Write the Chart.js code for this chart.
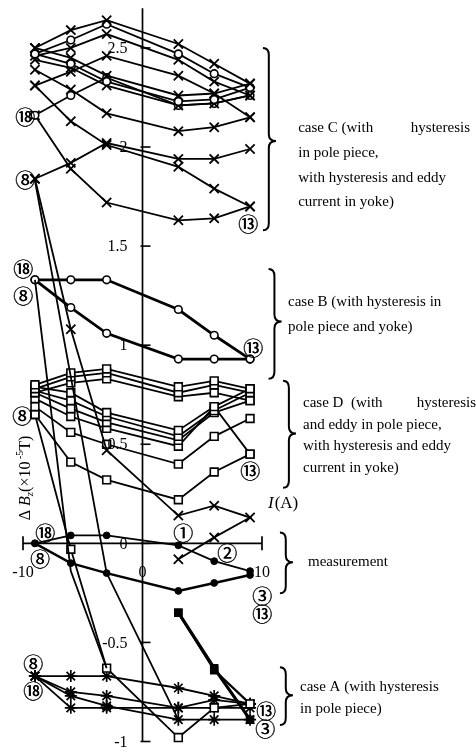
<!DOCTYPE html>
<html>
<head>
<meta charset="utf-8">
<script src="https://cdn.jsdelivr.net/npm/chart.js@4/dist/chart.umd.min.js"></script>
<style>
  html, body { margin: 0; padding: 0; background: #fff; }
  canvas { display: block; }
</style>
</head>
<body>
<canvas id="chart" width="476" height="752"></canvas>
<script>
// Coil current steps (A) used for every branch
const currents = [-9, -6, -3, 3, 6, 9];
const xTicks = [-10, 0, 10];
const yTicks = [-1, -0.5, 0, 0.5, 1, 1.5, 2, 2.5];

// case C: hysteresis in pole piece, hysteresis + eddy current in yoke
const caseC1  = [2.50, 2.59, 2.64, 2.52, 2.42, 2.32];
const caseC2  = [2.47, 2.54, 2.62, 2.47, 2.37, 2.30];
const caseC3  = [2.46, 2.50, 2.57, 2.44, 2.33, 2.26];
const caseC4  = [2.50, 2.45, 2.36, 2.26, 2.27, 2.32];
const caseC5  = [2.47, 2.42, 2.33, 2.23, 2.24, 2.30];
const caseC6  = [2.44, 2.40, 2.31, 2.21, 2.22, 2.26];
const caseC7  = [2.31, 2.38, 2.46, 2.36, 2.27, 2.15];
const caseC8  = [2.16, 2.26, 2.35, 2.21, 2.22, 2.26];
const caseC9  = [2.31, 2.13, 2.01, 1.90, 1.79, 1.70];
const caseC10 = [1.84, 1.92, 2.02, 1.94, 1.94, 1.99];
const caseC11 = [2.16, 1.89, 1.72, 1.63, 1.64, 1.70];
const caseC12 = [2.39, 2.29, 2.17, 2.08, 2.10, 2.15];
// case C first steps (1 -> 8)
const caseCStartI = [3, 6, 9, 6, 3, -3, -6, -9];
const caseCStartB = [-0.08, 0.03, 0.13, 0.19, 0.14, 0.47, 1.08, 1.84];

// long transition branches
const driftAI = [-9, -3, 3];
const driftAB = [1.83, -0.15, -0.89];
const driftBI = [-9, -6, -3];
const driftBB = [1.33, -0.14, -0.63];

// case B: hysteresis in pole piece and yoke
const caseBLow = [1.33, 1.19, 1.06, 0.93, 0.93, 0.93];
const caseBUp  = [1.33, 1.33, 1.33, 1.18, 1.05, 0.93];

// case D: hysteresis + eddy in pole piece and yoke
const caseD1  = [0.80, 0.86, 0.88, 0.79, 0.82, 0.78];
const caseD2  = [0.78, 0.84, 0.86, 0.76, 0.80, 0.76];
const caseD3  = [0.76, 0.81, 0.83, 0.74, 0.76, 0.72];
const caseD5  = [0.79, 0.76, 0.66, 0.57, 0.69, 0.78];
const caseD6  = [0.77, 0.72, 0.64, 0.54, 0.67, 0.76];
const caseD7  = [0.76, 0.68, 0.61, 0.52, 0.66, 0.72];
const caseD8  = [0.73, 0.64, 0.58, 0.49, 0.69, 0.45];
const caseD9  = [0.69, 0.56, 0.50, 0.40, 0.54, 0.63];
const caseD10 = [0.65, 0.41, 0.32, 0.22, 0.36, 0.45];
const caseDStart = [0.65, -0.03, -0.63, -0.98, -0.83, -0.81];

// measurement
const measLow = [0.00, -0.10, -0.15, -0.24, -0.20, -0.16];
const measUp  = [0.00, 0.04, 0.04, -0.01, -0.09, -0.14];

// case A: hysteresis in pole piece only
const caseA1 = [-0.67, -0.67, -0.67, -0.73, -0.77, -0.81];
const caseA2 = [-0.67, -0.75, -0.77, -0.83, -0.79, -0.81];
const caseA3 = [-0.67, -0.77, -0.82, -0.89, -0.89, -0.89];
const caseA4 = [-0.67, -0.83, -0.83, -0.83, -0.83, -0.83];

// initial magnetisation steps 1 -> 3
const virginI  = [3, 6, 9];
const virgin1B = [-0.35, -0.63, -0.89];
const virgin2B = [-0.35, -0.64, -0.81];

// circled step numbers: [text, current, deltaB]
const stepLabels = [
  ['⑱', -9.83, 2.156], ['⑧', -9.83, 1.839], ['⑬', 8.83, 1.612],
  ['⑱', -10.0, 1.385], ['⑧', -10.0, 1.249], ['⑬', 9.25, 0.987],
  ['⑧', -10.08, 0.645], ['⑬', 9.0, 0.368],
  ['⑱', -8.16, 0.055], ['⑧', -8.58, -0.076], ['①', 3.39, 0.055], ['②', 7.07, -0.045],
  ['③', 10.0, -0.262], ['⑬', 10.0, -0.353],
  ['⑧', -9.16, -0.605], ['⑱', -9.16, -0.741], ['⑬', 10.33, -0.841], ['③', 10.25, -0.932]
];

// braces: [left current, top, tip, bottom]
const braces = [
  [10.08, 2.50, 2.03, 1.58],
  [10.55, 1.385, 1.12, 0.83],
  [11.76, 0.82, 0.554, 0.28],
  [11.50, 0.055, -0.096, -0.252],
  [11.50, -0.625, -0.766, -0.917]
];

// annotation blocks: left current, rows of [deltaB, text, right-hand word]
const notes = [
  [13.03, [[2.096, 'case C (with', 'hysteresis'], [1.970, 'in pole piece,'], [1.844, 'with hysteresis and eddy'], [1.723, 'current in yoke)']]],
  [12.18, [[1.219, 'case B (with hysteresis in'], [1.093, 'pole piece and yoke)']]],
  [13.43, [[0.710, 'case D  (with', 'hysteresis'], [0.599, 'and eddy in pole piece,'], [0.489, 'with hysteresis and eddy'], [0.378, 'current in yoke)']]],
  [13.85, [[-0.096, 'measurement']]],
  [13.18, [[-0.725, 'case A (with hysteresis'], [-0.836, 'in pole piece)']]]
];
const justifyRight = [470, null, 476, null, null];

const markers = {
  cross:  { pointStyle: 'crossRot', pointRadius: 6.5, pointBorderWidth: 1.8 },
  ring:   { pointStyle: 'circle', pointRadius: 3.8, pointBackgroundColor: '#fff', pointBorderWidth: 1.6 },
  square: { pointStyle: 'rect', pointRadius: 5.5, pointBackgroundColor: '#fff', pointBorderWidth: 1.6 },
  solidSquare: { pointStyle: 'rect', pointRadius: 5, pointBackgroundColor: '#000', pointBorderWidth: 1.4 },
  star:   { pointStyle: 'star', pointRadius: 6, pointBorderWidth: 1.7 },
  dot:    { pointStyle: 'circle', pointRadius: 3.4, pointBackgroundColor: '#000', pointBorderWidth: 1 },
  none:   { pointRadius: 0 }
};

function branch(xs, ys, marker, width) {
  return Object.assign({
    data: xs.map((x, i) => ({ x: x, y: ys[i] })),
    showLine: true,
    borderColor: '#000',
    borderWidth: width || 1.8,
    pointBorderColor: '#000',
    pointBackgroundColor: '#fff',
    tension: 0,
    fill: false,
    clip: false
  }, markers[marker]);
}

const datasets = [
  branch(currents, caseC1, 'cross'), branch(currents, caseC2, 'ring'), branch(currents, caseC3, 'cross'),
  branch(currents, caseC4, 'cross'), branch(currents, caseC5, 'ring'), branch(currents, caseC6, 'cross'),
  branch(currents, caseC7, 'cross'), branch(currents, caseC8, 'ring'), branch(currents, caseC9, 'cross'),
  branch(currents, caseC10, 'cross'), branch(currents, caseC11, 'cross'), branch(currents, caseC12, 'cross'),
  branch(caseCStartI, caseCStartB, 'cross'),
  branch(driftAI, driftAB, 'none'),
  branch(driftBI, driftBB, 'none'),
  branch(currents, caseBLow, 'ring', 2.8), branch(currents, caseBUp, 'ring', 2.8),
  branch(currents, caseD1, 'square'), branch(currents, caseD2, 'square'), branch(currents, caseD3, 'square'),
  branch(currents, caseD5, 'square'), branch(currents, caseD6, 'square'), branch(currents, caseD7, 'square'),
  branch(currents, caseD8, 'square'), branch(currents, caseD9, 'square'), branch(currents, caseD10, 'square'),
  branch(currents, caseDStart, 'square'),
  branch(currents, measLow, 'dot', 2.4), branch(currents, measUp, 'dot', 1.8),
  branch(currents, caseA1, 'star'), branch(currents, caseA2, 'star'),
  branch(currents, caseA3, 'star'), branch(currents, caseA4, 'star'),
  branch(virginI, virgin1B, 'solidSquare', 3.2), branch(virginI, virgin2B, 'solidSquare', 2.2)
];

const SERIF = '"Liberation Serif", "Times New Roman", serif';

function drawBrace(ctx, xl, yTop, yTip, yBot, w) {
  const xm = xl + w * 0.45;
  ctx.beginPath();
  ctx.moveTo(xl, yTop);
  ctx.quadraticCurveTo(xm, yTop, xm, yTop + 7);
  ctx.lineTo(xm, yTip - 7);
  ctx.quadraticCurveTo(xm, yTip, xl + w, yTip);
  ctx.quadraticCurveTo(xm, yTip, xm, yTip + 7);
  ctx.lineTo(xm, yBot - 7);
  ctx.quadraticCurveTo(xm, yBot, xl, yBot);
  ctx.stroke();
}

const axesPlugin = {
  id: 'crossedAxes',
  beforeDatasetsDraw(chart) {
    const ctx = chart.ctx, xs = chart.scales.x, ys = chart.scales.y;
    const x0 = xs.getPixelForValue(0), y0 = ys.getPixelForValue(0);
    ctx.save();
    ctx.strokeStyle = '#000';
    ctx.lineWidth = 1.7;
    // vertical axis
    ctx.beginPath();
    ctx.moveTo(x0, chart.chartArea.top);
    ctx.lineTo(x0, ys.getPixelForValue(-1));
    ctx.stroke();
    // horizontal axis with end stops
    const xl = xs.getPixelForValue(xTicks[0]), xr = xs.getPixelForValue(xTicks[xTicks.length - 1]);
    ctx.beginPath();
    ctx.moveTo(xl, y0); ctx.lineTo(xr, y0);
    ctx.moveTo(xl, y0 - 7); ctx.lineTo(xl, y0 + 7);
    ctx.moveTo(xr, y0 - 7); ctx.lineTo(xr, y0 + 7);
    ctx.stroke();
    // y ticks
    ctx.lineWidth = 1.6;
    yTicks.forEach(v => {
      const y = ys.getPixelForValue(v);
      ctx.beginPath(); ctx.moveTo(x0 - 2, y); ctx.lineTo(x0 + 8, y); ctx.stroke();
    });
    ctx.restore();
  },
  afterDatasetsDraw(chart) {
    const ctx = chart.ctx, xs = chart.scales.x, ys = chart.scales.y;
    const x0 = xs.getPixelForValue(0), y0 = ys.getPixelForValue(0);
    ctx.save();
    ctx.fillStyle = '#000';
    ctx.strokeStyle = '#000';
    // tick labels
    ctx.font = '16px ' + SERIF;
    ctx.textBaseline = 'middle';
    ctx.textAlign = 'right';
    yTicks.forEach(v => ctx.fillText(String(v), x0 - 15, ys.getPixelForValue(v) + 1));
    ctx.textAlign = 'center';
    xTicks.forEach(v => ctx.fillText(String(v), xs.getPixelForValue(v), y0 + 29));

    // current axis title
    ctx.textAlign = 'left';
    let tx = xs.getPixelForValue(10.5), ty = ys.getPixelForValue(0.2);
    ctx.font = 'italic 17px ' + SERIF;
    ctx.fillText('I', tx, ty);
    tx += ctx.measureText('I').width + 1;
    ctx.font = '17px ' + SERIF;
    ctx.fillText('(A)', tx, ty);

    // field axis title, rotated
    ctx.save();
    ctx.translate(xs.getPixelForValue(-9.75), ys.getPixelForValue(0.33));
    ctx.rotate(-Math.PI / 2);
    const parts = [
      ['Δ ', '16px ' + SERIF, 0], ['B', 'italic 16px ' + SERIF, 0], ['z', 'italic 11px ' + SERIF, 4],
      ['(×10', '16px ' + SERIF, 0], [' -5', '10px ' + SERIF, -6], ['T)', '16px ' + SERIF, 0]
    ];
    let total = 0;
    parts.forEach(p => { ctx.font = p[1]; total += ctx.measureText(p[0]).width; });
    let px = -total / 2;
    parts.forEach(p => { ctx.font = p[1]; ctx.fillText(p[0], px, p[2]); px += ctx.measureText(p[0]).width; });
    ctx.restore();

    // braces
    ctx.lineWidth = 2;
    braces.forEach(b => drawBrace(ctx, xs.getPixelForValue(b[0]), ys.getPixelForValue(b[1]),
      ys.getPixelForValue(b[2]), ys.getPixelForValue(b[3]), 13));

    // annotation text
    ctx.font = '15px ' + SERIF;
    notes.forEach((n, k) => {
      const lx = xs.getPixelForValue(n[0]);
      n[1].forEach(row => {
        const y = ys.getPixelForValue(row[0]);
        ctx.textAlign = 'left';
        ctx.fillText(row[1], lx, y);
        if (row[2]) { ctx.textAlign = 'right'; ctx.fillText(row[2], justifyRight[k], y); }
      });
    });

    // circled step numbers
    ctx.textAlign = 'center';
    ctx.font = '20px "Noto Sans CJK JP", "DejaVu Sans", sans-serif';
    stepLabels.forEach(s => {
      const x = xs.getPixelForValue(s[1]), y = ys.getPixelForValue(s[2]) + 1;
      ctx.fillText(s[0], x, y);
      ctx.fillText(s[0], x + 0.4, y);
    });
    ctx.restore();
  }
};

new Chart(document.getElementById('chart'), {
  type: 'scatter',
  data: { datasets: datasets },
  options: {
    responsive: false,
    animation: false,
    events: [],
    layout: { padding: { left: 23, right: 214, top: 7, bottom: 10.5 } },
    plugins: { legend: { display: false }, tooltip: { enabled: false } },
    scales: {
      x: { type: 'linear', min: -10, max: 10, display: false },
      y: { type: 'linear', min: -1, max: 2.7, display: false }
    }
  },
  plugins: [axesPlugin]
});
</script>
</body>
</html>
